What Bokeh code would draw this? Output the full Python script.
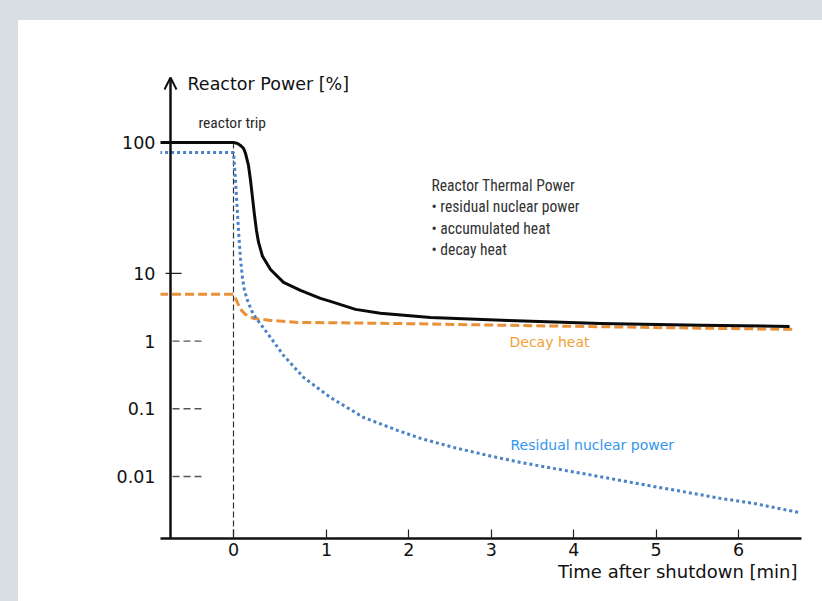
import math
from bokeh.plotting import figure
from bokeh.models import (ColumnDataSource, Range1d, FixedTicker, CustomJSTransform,
                          Label, Arrow, OpenHead, Title)
from bokeh.transform import transform
from bokeh.layouts import column
from bokeh.embed import file_html
from bokeh.resources import INLINE

# ---------------- data ----------------
total_time = [-0.80, 0.0, 0.043, 0.075, 0.1075, 0.129, 0.161, 0.183, 0.204, 0.226,
              0.247, 0.269, 0.312, 0.398, 0.538, 0.720, 0.935, 1.048, 1.352, 1.655,
              2.262, 3.209, 4.325, 5.539, 6.62]
total_power = [100, 100, 98.2, 94.8, 90.2, 82.4, 66.7, 51.3, 38.0, 27.7,
               21.3, 17.3, 13.5, 10.7, 7.36, 5.61, 4.28, 3.86, 2.94, 2.57,
               2.24, 2.02, 1.82, 1.71, 1.65]

decay_time = [-0.80, 0.0, 0.0323, 0.075, 0.129, 0.215, 0.398, 0.688, 1.861, 3.209,
              4.93, 6.655]
decay_power = [4.9, 4.9, 3.99, 2.94, 2.48, 2.16, 2.02, 1.89, 1.82, 1.71,
               1.59, 1.49]

residual_time = [-0.80, 0.0, 0.0215, 0.0538, 0.075, 0.0968, 0.118, 0.1505, 0.1935,
                 0.237, 0.366, 0.538, 0.753, 1.048, 1.449, 1.861, 2.141, 2.541,
                 2.954, 3.354, 3.755, 4.167, 4.568, 4.968, 5.381, 5.782, 6.182, 6.728]
residual_power = [83.9, 83.9, 51.3, 21.3, 13.0, 8.44, 5.61, 3.99, 2.84,
                  2.24, 1.30, 0.615, 0.291, 0.147, 0.0746, 0.048, 0.0366, 0.0269,
                  0.0205, 0.01614, 0.01318, 0.01074, 0.00875, 0.00714, 0.00582,
                  0.00475, 0.00401, 0.00295]

trip_time = 0.0
trip_power = 100

time_ticks = [0, 1, 2, 3, 4, 5, 6]
time_tick_labels = ["0", "1", "2", "3", "4", "5", "6"]
power_ticks = [100, 10, 1, 0.1, 0.01]
power_tick_labels = ["100", "10", "1", "0.1", "0.01"]
dashed_power_ticks = [1, 0.1, 0.01]

legend_lines = ["Reactor Thermal Power", "\u2022 residual nuclear power",
                "\u2022 accumulated heat", "\u2022 decay heat"]

NARROW = "Roboto Condensed"

# ---------------- schematic (non-uniform) axis scales ----------------
K = 131 / 67.7      # the top decade (10..100) is drawn taller
A = 93 / 82.4       # the first minute is drawn wider


def ydisp(v):
    L = math.log10(v)
    return L + 2 if L <= 1 else 3 + K * (L - 1)


def xdisp(t):
    return t * A if t <= 1 else A + (t - 1)


ytf = CustomJSTransform(args=dict(K=K), func="""
const L = Math.log10(x);
return L <= 1 ? L + 2 : 3 + K * (L - 1);
""", v_func="""
const out = new Array(xs.length);
for (let i = 0; i < xs.length; i++) {
  const L = Math.log10(xs[i]);
  out[i] = L <= 1 ? L + 2 : 3 + K * (L - 1);
}
return out;
""")
xtf = CustomJSTransform(args=dict(A=A), func="""
return x <= 1 ? x * A : A + (x - 1);
""", v_func="""
const out = new Array(xs.length);
for (let i = 0; i < xs.length; i++) {
  const x = xs[i];
  out[i] = x <= 1 ? x * A : A + (x - 1);
}
return out;
""")


# pixel helpers for annotation placement only
def px_x(px):
    return (px - 233) / 82.4


def px_y(py):
    return (476 - py) / 67.7


x_min, x_max = px_x(160), px_x(801)
y_min, y_max = px_y(538), px_y(66)
axis_x = px_x(170)

p = figure(width=804, height=581, output_backend="svg", toolbar_location=None,
           x_range=Range1d(x_min, x_max), y_range=Range1d(y_min, y_max),
           min_border_left=142, min_border_right=21, min_border_top=46,
           min_border_bottom=63)
p.outline_line_color = None
p.background_fill_color = "white"
p.border_fill_color = "white"
p.styles = {"background-color": "white"}
p.xgrid.visible = False
p.ygrid.visible = False

# x axis
xt = [round(xdisp(t), 6) for t in time_ticks]
p.xaxis.ticker = FixedTicker(ticks=xt)
p.xaxis.major_label_overrides = {k: lab for k, lab in zip(xt, time_tick_labels)}
p.xaxis.axis_line_width = 2.5
p.xaxis.axis_line_color = "#111111"
p.xaxis.major_tick_in = 9
p.xaxis.major_tick_out = 0
p.xaxis.major_tick_line_width = 1.2
p.xaxis.major_tick_line_color = "#222222"
p.xaxis.minor_tick_line_color = None
p.xaxis.major_label_standoff = 4
p.xaxis.major_label_text_font = "DejaVu Sans"
p.xaxis.major_label_text_font_size = "17.5px"
p.xaxis.major_label_text_color = "#111111"

p.add_layout(Title(text="Time after shutdown [min]", align="right",
                   text_font="DejaVu Sans", text_font_size="18px",
                   text_font_style="normal", text_color="#111111",
                   standoff=0, offset=4), "below")

# y axis (labels from bokeh's axis, the line itself drawn with an arrow)
yt = [round(ydisp(v), 6) for v in power_ticks]
p.yaxis.ticker = FixedTicker(ticks=yt)
p.yaxis.major_label_overrides = {k: lab for k, lab in zip(yt, power_tick_labels)}
p.yaxis.axis_line_color = None
p.yaxis.major_tick_in = 0
p.yaxis.major_tick_out = 0
p.yaxis.minor_tick_line_color = None
p.yaxis.major_label_standoff = 5
p.yaxis.major_label_text_font = "DejaVu Sans"
p.yaxis.major_label_text_font_size = "17.5px"
p.yaxis.major_label_text_color = "#111111"

p.add_layout(Arrow(end=OpenHead(size=12, line_width=2, line_color="#111111"),
                   x_start=axis_x, y_start=y_min, x_end=axis_x, y_end=px_y(77),
                   line_width=2.5, line_color="#111111"))

# tick decorations on the y axis
p.segment(x0=[px_x(172)] * len(dashed_power_ticks), x1=[px_x(202)] * len(dashed_power_ticks),
          y0=[ydisp(v) for v in dashed_power_ticks], y1=[ydisp(v) for v in dashed_power_ticks],
          line_color="#555555", line_width=1.4, line_dash="7 4")
p.segment(x0=[px_x(165), px_x(165)], x1=[px_x(181), px_x(174)],
          y0=[ydisp(10), ydisp(100)], y1=[ydisp(10), ydisp(100)],
          line_color="#222222", line_width=1.3)

# reactor trip line
p.segment(x0=[xdisp(trip_time)], x1=[xdisp(trip_time)], y0=[ydisp(trip_power)], y1=[y_min],
          line_color="#333333", line_width=1.2, line_dash="6 3")

# series
src_total = ColumnDataSource(dict(t=total_time, v=total_power))
src_decay = ColumnDataSource(dict(t=decay_time, v=decay_power))
src_resid = ColumnDataSource(dict(t=residual_time, v=residual_power))

p.line(x=transform("t", xtf), y=transform("v", ytf), source=src_decay,
       line_color="#ea9038", line_width=3, line_dash="9 4")
p.line(x=transform("t", xtf), y=transform("v", ytf), source=src_resid,
       line_color="#4a82c8", line_width=3, line_dash="3 3")
p.line(x=transform("t", xtf), y=transform("v", ytf), source=src_total,
       line_color="#0a0a0a", line_width=3, line_join="round")

# texts
p.add_layout(Label(x=px_x(187), y=px_y(83), text="Reactor Power [%]",
                   text_font="DejaVu Sans", text_font_size="17.5px",
                   text_color="#111111", text_baseline="middle"))
p.add_layout(Label(x=px_x(198), y=px_y(122), text="reactor trip",
                   text_font=NARROW, text_font_size="15.5px",
                   text_color="#2a2a2a", text_baseline="middle"))
for i, line in enumerate(legend_lines):
    p.add_layout(Label(x=px_x(431), y=px_y(185 + 21.6 * i), text=line,
                       text_font=NARROW, text_font_size="15.6px",
                       text_color="#333333", text_baseline="middle"))
p.add_layout(Label(x=px_x(509), y=px_y(341), text="Decay heat",
                   text_font="DejaVu Sans", text_font_size="14px",
                   text_color="#f2a03a", text_baseline="middle"))
p.add_layout(Label(x=px_x(510), y=px_y(444), text="Residual nuclear power",
                   text_font="DejaVu Sans", text_font_size="14px",
                   text_color="#3396ee", text_baseline="middle"))

page = column(p, styles={"background-color": "#d9dde4", "padding-left": "18px",
                         "padding-top": "20px"})

open("out.html", "w").write(file_html(page, INLINE))
